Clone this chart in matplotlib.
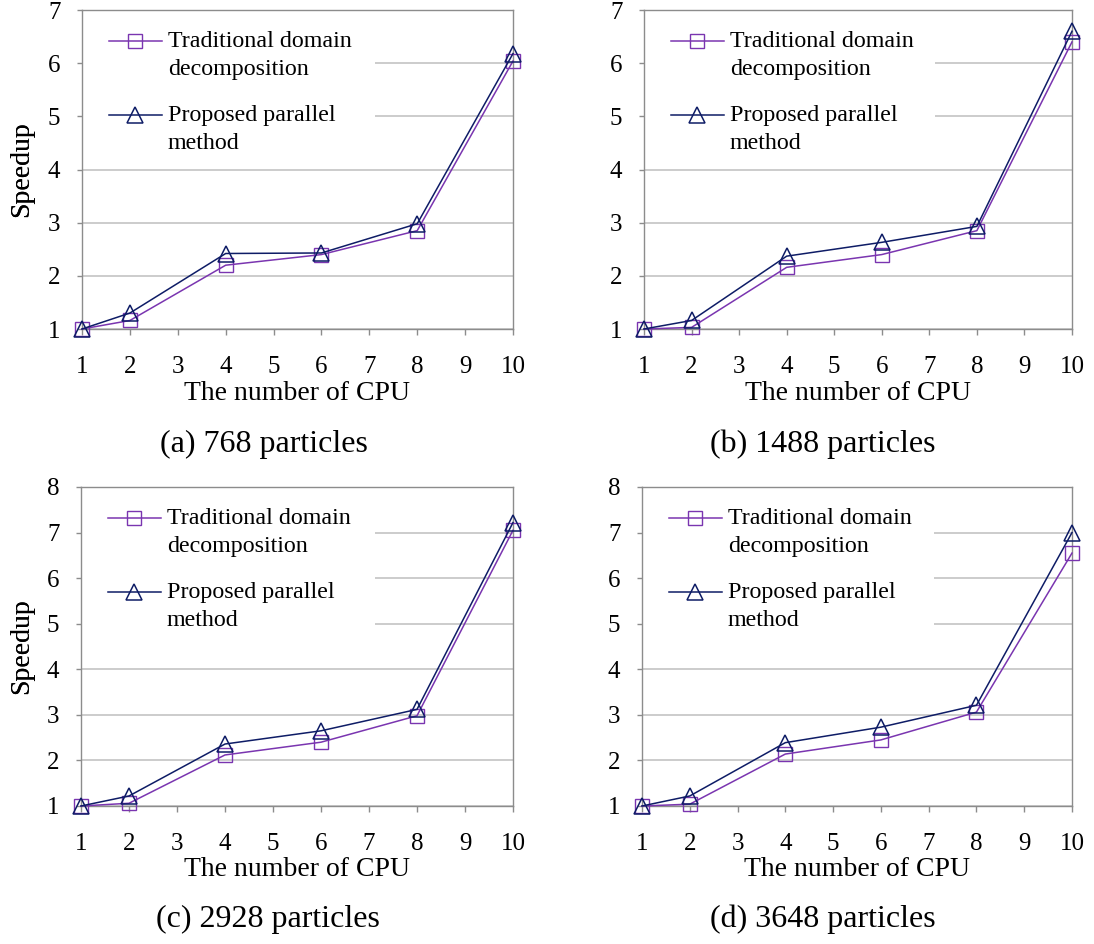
import matplotlib
matplotlib.use("Agg")
import matplotlib.pyplot as plt
from matplotlib.legend_handler import HandlerLine2D
from matplotlib.patches import Rectangle
import numpy as np

plt.rcParams['font.family'] = ['Liberation Serif', 'DejaVu Serif']

# ---- data ----
cpus = [1, 2, 4, 6, 8, 10]
xticks = list(range(1, 11))

trad_a = [1.0, 1.16, 2.20, 2.40, 2.85, 6.04]
prop_a = [1.0, 1.30, 2.42, 2.43, 2.98, 6.18]
trad_b = [1.0, 1.03, 2.16, 2.40, 2.85, 6.40]
prop_b = [1.0, 1.16, 2.37, 2.63, 2.93, 6.60]
trad_c = [1.0, 1.06, 2.12, 2.40, 2.98, 7.05]
prop_c = [1.0, 1.22, 2.36, 2.65, 3.12, 7.22]
trad_d = [1.0, 1.04, 2.14, 2.45, 3.06, 6.55]
prop_d = [1.0, 1.22, 2.39, 2.73, 3.21, 7.00]

captions = ["(a) 768 particles", "(b) 1488 particles",
            "(c) 2928 particles", "(d) 3648 particles"]
ymaxes = [7, 7, 8, 8]
label_trad = "Traditional domain\ndecomposition"
label_prop = "Proposed parallel\nmethod"
xlabel = "The number of CPU"
ylabel = "Speedup"

trad_all = [trad_a, trad_b, trad_c, trad_d]
prop_all = [prop_a, prop_b, prop_c, prop_d]

PURPLE = "#7A35B0"
NAVY = "#0E1C66"
W, H = 1094, 944

fig = plt.figure(figsize=(W / 100, H / 100), dpi=100)

# axes pixel boxes: left, right, top, bottom
boxes = [(82, 513, 10, 329), (644, 1072, 10, 329),
         (81, 513, 487, 806), (642, 1072, 487, 806)]
xlabel_y = [393, 393, 870, 870]
cap_pos = [(264, 444), (823, 444), (268, 919), (823, 919)]

HANDLE_OFF_PT = 0.5 * 28 * 0.72  # half line distance, in points


class FirstLineHandler(HandlerLine2D):
    def create_artists(self, legend, orig_handle, xdescent, ydescent,
                       width, height, fontsize, trans):
        arts = super().create_artists(legend, orig_handle, xdescent, ydescent,
                                      width, height, fontsize, trans)
        for a in arts:
            a.set_ydata(np.asarray(a.get_ydata()) + HANDLE_OFF_PT)
        return arts


for i, (l, r, t, b) in enumerate(boxes):
    ax = fig.add_axes([l / W, 1 - b / H, (r - l) / W, (b - t) / H])
    ax.plot(cpus, trad_all[i], color=PURPLE, lw=1.1, marker='s', ms=9.5,
            mfc='none', mec=PURPLE, mew=1.0, label=label_trad, zorder=3,
            clip_on=False)
    ax.plot(cpus, prop_all[i], color=NAVY, lw=1.1, marker='^', ms=11,
            mfc='none', mec=NAVY, mew=1.1, label=label_prop, zorder=4,
            clip_on=False)
    ax.set_xlim(1, 10)
    ax.set_ylim(1, ymaxes[i])
    ax.set_xticks(xticks)
    ax.set_yticks(range(1, ymaxes[i] + 1))
    ax.grid(axis='y', color='#C8C8C8', lw=1.3, zorder=0.5)
    ax.set_axisbelow(True)
    for s in ax.spines.values():
        s.set_color('#8C8C8C')
        s.set_linewidth(1.0)
    ax.tick_params(axis='x', direction='out', length=4.5, width=1.0,
                   color='#8C8C8C', labelsize=18, pad=15)
    ax.tick_params(axis='y', direction='out', length=3.5, width=1.0,
                   color='#8C8C8C', labelsize=18, pad=12)
    ax.set_xlabel(xlabel, fontsize=20, va='center')
    ax.xaxis.set_label_coords(0.5, -(xlabel_y[i] - b) / (b - t))
    ax.set_ylabel(ylabel, fontsize=20, va='center')
    ax.yaxis.set_label_coords(-(l - 22) / (r - l), 0.5)

    # white legend background
    ax.add_patch(Rectangle((0, 0.515), 0.68, 0.485, transform=ax.transAxes,
                           facecolor='white', edgecolor='none', zorder=1))
    leg = ax.legend(loc='upper left', bbox_to_anchor=(27 / (r - l), 0.935),
                    frameon=False, fontsize=17.3, borderpad=0, borderaxespad=0,
                    handlelength=2.2, handletextpad=0.25, labelspacing=1.05,
                    handler_map={plt.Line2D: FirstLineHandler()})
    for txt in leg.get_texts():
        txt.set_linespacing(1.45)

    cx, cy = cap_pos[i]
    fig.text(cx / W, 1 - cy / H, captions[i], fontsize=23,
             ha='center', va='center')

fig.savefig("out.png", dpi=100)
